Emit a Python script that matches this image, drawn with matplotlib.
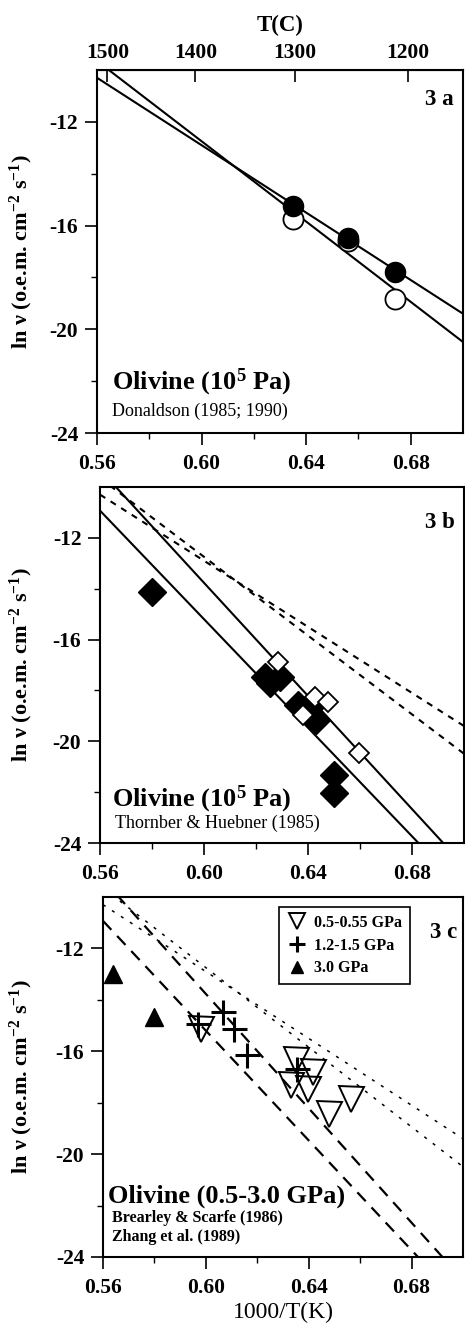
import numpy as np
import matplotlib
matplotlib.use('Agg')
import matplotlib.pyplot as plt

plt.rcParams['font.family'] = ['Liberation Serif', 'DejaVu Serif']
plt.rcParams['mathtext.fontset'] = 'custom'
plt.rcParams['mathtext.rm'] = 'Liberation Serif'
plt.rcParams['mathtext.bf'] = 'Liberation Serif:bold'
plt.rcParams['mathtext.default'] = 'bf'
plt.rcParams['axes.unicode_minus'] = False

# x = 1000/T(K), y = ln v
xticks = [0.56, 0.60, 0.64, 0.68]
xtick_labels = ['0.56', '0.60', '0.64', '0.68']
xminor = [0.58, 0.62, 0.66]
yticks = [-24, -20, -16, -12]
ytick_labels = ['-24', '-20', '-16', '-12']
yminor = [-22, -18, -14]
tc_ticks = [1500, 1400, 1300, 1200]

# 3a - Donaldson (1985; 1990)
don_x = [0.635, 0.656, 0.674]
don_filled_y = [-15.23, -16.47, -17.80]
don_open_y = [-15.74, -16.60, -18.85]
# fit lines, ends at x = 0.56 and 0.70
fit_x = [0.56, 0.70]
fit_filled_y = [-10.30, -19.40]
fit_open_y = [-9.65, -20.49]

# 3b - Thornber & Huebner (1985)
th_filled_x = [0.580, 0.6235, 0.6255, 0.6292, 0.6362, 0.6406, 0.6432, 0.650, 0.650]
th_filled_y = [-14.13, -17.46, -17.70, -17.46, -18.58, -18.64, -19.16, -21.32, -22.04]
th_open_x = [0.6286, 0.638, 0.6425, 0.6476, 0.6597]
th_open_y = [-16.87, -18.97, -18.25, -18.44, -20.47]
fit_b_upper_y = [-9.32, -24.89]
fit_b_lower_y = [-10.93, -25.87]

# 3c - Brearley & Scarfe (1986), Zhang et al. (1989)
low_p_x = [0.598, 0.635, 0.6415, 0.633, 0.6396, 0.6479, 0.6565]
low_p_y = [-15.12, -16.35, -16.80, -17.32, -17.45, -18.42, -17.84]
mid_p_x = [0.597, 0.6065, 0.611, 0.616, 0.6355]
mid_p_y = [-14.95, -14.47, -15.12, -16.15, -16.67]
high_p_x = [0.564, 0.580]
high_p_y = [-12.98, -14.67]


def to_tc(x):
    x = np.asarray(x, dtype=float)
    with np.errstate(divide='ignore'):
        return 1000.0 / x - 273.15


def to_inv(t):
    t = np.asarray(t, dtype=float)
    with np.errstate(divide='ignore'):
        return 1000.0 / (t + 273.15)


def style_axes(ax, label_x):
    ax.set_xlim(0.56, 0.70)
    ax.set_ylim(-24, -10)
    ax.set_xticks(xticks, labels=xtick_labels, fontweight='bold')
    ax.set_xticks(xminor, minor=True)
    ax.set_yticks(yticks, labels=ytick_labels, fontweight='bold')
    ax.set_yticks(yminor, minor=True)
    ax.tick_params(which='major', direction='out', length=8.5, width=1.2,
                   labelsize=15.5, pad=5)
    ax.tick_params(axis='x', which='major', pad=6.5)
    ax.tick_params(which='minor', direction='out', length=4, width=1.0)
    for s in ax.spines.values():
        s.set_linewidth(1.5)
    ax.set_ylabel('ln ν (o.e.m. cm$^{-2}$ s$^{-1}$)', fontsize=16, fontweight='bold')
    ax.yaxis.set_label_coords(label_x, 0.5)


fig = plt.figure(figsize=(4.65, 13.23), dpi=100)
ax_a = fig.add_axes([0.2086, 0.6727, 0.7871, 0.2744])
ax_b = fig.add_axes([0.2151, 0.3628, 0.7828, 0.2691])
ax_c = fig.add_axes([0.2215, 0.0499, 0.7742, 0.2721])

# ---- 3a ----
ax_a.plot(fit_x, fit_filled_y, color='black', lw=1.5, zorder=2)
ax_a.plot(fit_x, fit_open_y, color='black', lw=1.5, zorder=2)
ax_a.plot(don_x, don_open_y, 'o', ms=14.5, mfc='white', mec='black', mew=1.3, zorder=3)
ax_a.plot(don_x, don_filled_y, 'o', ms=14.5, color='black', zorder=4)
style_axes(ax_a, -0.169)

sec = ax_a.secondary_xaxis('top', functions=(to_tc, to_inv))
sec.set_ticks(tc_ticks, labels=[str(t) for t in tc_ticks], fontweight='bold')
sec.tick_params(direction='in', length=8.5, width=1.2, labelsize=15.5, pad=5)
sec.set_xlabel('T(C)', fontsize=16.5, fontweight='bold', labelpad=9)

ax_a.text(0.934, 0.904, '3 a', transform=ax_a.transAxes, ha='center', va='baseline',
          fontsize=16.5, fontweight='bold')
ax_a.text(0.041, 0.121, 'Olivine (10$^{5}$ Pa)', transform=ax_a.transAxes,
          va='baseline', fontsize=19, fontweight='bold')
ax_a.text(0.041, 0.047, 'Donaldson (1985; 1990)', transform=ax_a.transAxes,
          va='baseline', fontsize=13)

# ---- 3b ----
ax_b.plot(fit_x, fit_filled_y, color='black', lw=1.5, dashes=(3, 3), zorder=2)
ax_b.plot(fit_x, fit_open_y, color='black', lw=1.5, dashes=(3, 3), zorder=2)
ax_b.plot(fit_x, fit_b_upper_y, color='black', lw=1.5, zorder=2)
ax_b.plot(fit_x, fit_b_lower_y, color='black', lw=1.5, zorder=2)
ax_b.plot(th_filled_x, th_filled_y, 'D', ms=14, color='black', zorder=3)
ax_b.plot(th_open_x, th_open_y, 'D', ms=10.5, mfc='white', mec='black', mew=1.3, zorder=4)
style_axes(ax_b, -0.179)

ax_b.text(0.934, 0.885, '3 b', transform=ax_b.transAxes, ha='center', va='baseline',
          fontsize=16.5, fontweight='bold')
ax_b.text(0.033, 0.104, 'Olivine (10$^{5}$ Pa)', transform=ax_b.transAxes,
          va='baseline', fontsize=19, fontweight='bold')
ax_b.text(0.041, 0.042, 'Thornber & Huebner (1985)', transform=ax_b.transAxes,
          va='baseline', fontsize=13)

# ---- 3c ----
ax_c.plot(fit_x, fit_filled_y, color='black', lw=1.1, dashes=(2, 5), zorder=2)
ax_c.plot(fit_x, fit_open_y, color='black', lw=1.1, dashes=(2, 5), zorder=2)
ax_c.plot(fit_x, fit_b_upper_y, color='black', lw=1.6, dashes=(5.5, 3.8), zorder=2)
ax_c.plot(fit_x, fit_b_lower_y, color='black', lw=1.6, dashes=(5.5, 3.8), zorder=2)
h_hi, = ax_c.plot(high_p_x, high_p_y, '^', ms=13, color='black', ls='none',
                  label='3.0 GPa', zorder=3)
h_lo, = ax_c.plot(low_p_x, low_p_y, 'v', ms=18, mfc='none', mec='black', mew=1.4,
                  ls='none', label='0.5-0.55 GPa', zorder=3)
h_mid, = ax_c.plot(mid_p_x, mid_p_y, '+', ms=18, mew=2.2, color='black', ls='none',
                   label='1.2-1.5 GPa', zorder=4)
style_axes(ax_c, -0.189)
ax_c.set_xlabel('1000/T(K)', fontsize=17, labelpad=3)

leg = ax_c.legend(handles=[h_lo, h_mid, h_hi], loc='upper left',
                  bbox_to_anchor=(0.489, 0.972), borderaxespad=0, fancybox=False,
                  edgecolor='black', framealpha=1, markerscale=0.62,
                  prop={'weight': 'bold', 'size': 11.5}, handlelength=1.3,
                  handletextpad=0.4, borderpad=0.5, labelspacing=0.42)
leg.get_frame().set_linewidth(1.2)

ax_c.text(0.947, 0.886, '3 c', transform=ax_c.transAxes, ha='center', va='baseline',
          fontsize=16.5, fontweight='bold')
ax_c.text(0.014, 0.15, 'Olivine (0.5-3.0 GPa)', transform=ax_c.transAxes,
          va='baseline', fontsize=19, fontweight='bold')
ax_c.text(0.025, 0.097, 'Brearley & Scarfe (1986)', transform=ax_c.transAxes,
          va='baseline', fontsize=11.5, fontweight='bold')
ax_c.text(0.025, 0.044, 'Zhang et al. (1989)', transform=ax_c.transAxes,
          va='baseline', fontsize=11.5, fontweight='bold')

fig.savefig('out.png', dpi=100)
